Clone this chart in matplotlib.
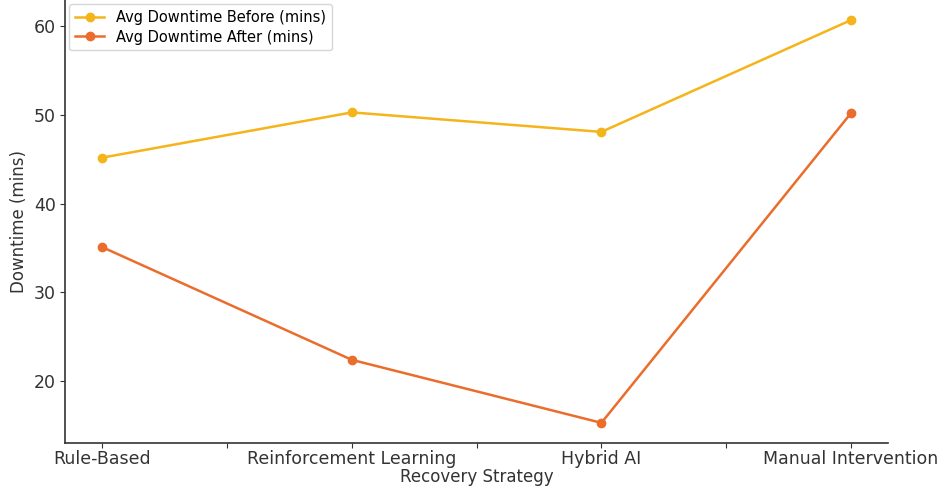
import matplotlib.pyplot as plt

plt.rcParams["font.family"] = "DejaVu Sans"

strategies = ["Rule-Based", "Reinforcement Learning", "Hybrid AI", "Manual Intervention"]
downtime_before = [45.2, 50.3, 48.1, 60.7]
downtime_after = [35.1, 22.4, 15.3, 50.2]

fig = plt.figure(figsize=(9.42, 4.87), dpi=100)
ax = fig.add_axes([0.069, 0.0904, 0.874, 0.9096])

x = list(range(len(strategies)))
ax.plot(x, downtime_before, marker="o", color="#f4b41a", lw=1.8, ms=6,
        label="Avg Downtime Before (mins)")
ax.plot(x, downtime_after, marker="o", color="#ea6d2c", lw=1.8, ms=6,
        label="Avg Downtime After (mins)")

# ticks on every half step, labels only on the strategies
ticks = [i * 0.5 for i in range(2 * len(strategies) - 1)]
labels = [strategies[int(t)] if t == int(t) else "" for t in ticks]
ax.set_xticks(ticks)
ax.set_xticklabels(labels, fontsize=12.5)
ax.set_yticks([20, 30, 40, 50, 60])
ax.tick_params(axis="y", labelsize=12.5, pad=3)
ax.tick_params(axis="x", pad=1.5)
ax.tick_params(colors="#333333")

ax.set_xlabel("Recovery Strategy", fontsize=12, color="#333333", labelpad=0)
ax.set_ylabel("Downtime (mins)", fontsize=12, color="#333333")

for side in ["top", "right"]:
    ax.spines[side].set_visible(False)
for side in ["left", "bottom"]:
    ax.spines[side].set_color("#333333")
    ax.spines[side].set_linewidth(1.2)

ax.legend(loc="upper left", fontsize=10.5, labelspacing=0.3, borderaxespad=0.3)

fig.savefig("out.png", dpi=100)
